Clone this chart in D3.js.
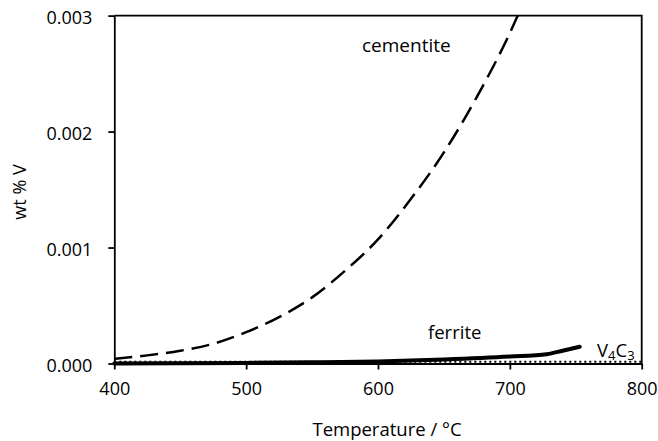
<!DOCTYPE html>
<html>
<head>
<meta charset="utf-8">
<script src="https://cdn.jsdelivr.net/npm/d3@7"></script>
<style>
  body { margin: 0; background: #fff; }
  text { font-family: "Open Sans", sans-serif; fill: #000; }
</style>
</head>
<body>
<script>
// ---- data ----
const xTicks = [400, 500, 600, 700, 800];
const yTicks = [0, 0.001, 0.002, 0.003];

const cementiteT = [400, 425, 450, 475, 500, 525, 550, 575, 600, 625, 650, 675, 700, 706];
const cementiteV = [0.00004, 0.00007, 0.00011, 0.00017, 0.00027, 0.00040, 0.00057, 0.00080, 0.00107, 0.00142, 0.00182, 0.00230, 0.00285, 0.00300];

const ferriteT = [400, 450, 500, 550, 600, 650, 700, 728, 740, 753];
const ferriteV = [0, 0.000002, 0.000005, 0.00001, 0.000018, 0.000035, 0.00006, 0.00008, 0.00011, 0.000145];

const v4c3T = [400, 800];
const v4c3V = [0.000016, 0.000016];

// ---- layout ----
const W = 658, H = 441;
const L = 114.3, R = 641.7, T = 15.6, B = 363.5;

const svg = d3.select("body").append("svg")
  .attr("width", W).attr("height", H);

const x = d3.scaleLinear().domain([400, 800]).range([L, R]);
const y = d3.scaleLinear().domain([0, 0.003]).range([B, T]);

svg.append("defs").append("clipPath").attr("id", "clip")
  .append("rect").attr("x", L).attr("y", T).attr("width", R - L).attr("height", B - T);

const zip = (a, b) => a.map((d, i) => [d, b[i]]);
const line = d3.line().x(d => x(d[0])).y(d => y(d[1])).curve(d3.curveMonotoneX);

const plot = svg.append("g").attr("clip-path", "url(#clip)");

// V4C3 dotted
plot.append("path")
  .attr("d", d3.line().x(d => x(d[0])).y(d => y(d[1]))(zip(v4c3T, v4c3V)))
  .attr("fill", "none").attr("stroke", "#000").attr("stroke-width", 2)
  .attr("stroke-dasharray", "2,3");

// cementite dashed
plot.append("path")
  .attr("d", line(zip(cementiteT, cementiteV)))
  .attr("fill", "none").attr("stroke", "#000").attr("stroke-width", 2.5)
  .attr("stroke-dasharray", "18,8");

// ferrite thick solid
svg.append("path")
  .attr("d", line(zip(ferriteT, ferriteV)))
  .attr("fill", "none").attr("stroke", "#000").attr("stroke-width", 4)
  .attr("stroke-linecap", "round");

// frame top/right
svg.append("path")
  .attr("d", `M${L},${T}H${R}V${B}`)
  .attr("fill", "none").attr("stroke", "#000").attr("stroke-width", 1.8);

// axes
const yAxis = svg.append("g").attr("transform", `translate(${L},0)`)
  .call(d3.axisLeft(y).tickValues(yTicks).tickFormat(d3.format(".3f")).tickSize(6).tickSizeOuter(0).tickPadding(16));
const xAxis = svg.append("g").attr("transform", `translate(0,${B})`)
  .call(d3.axisBottom(x).tickValues(xTicks).tickSize(6).tickSizeOuter(0).tickPadding(16));

[yAxis, xAxis].forEach(g => {
  g.select(".domain").attr("stroke", "#000").attr("stroke-width", 1.8);
  g.selectAll(".tick line").attr("stroke", "#000").attr("stroke-width", 1.8);
  g.selectAll(".tick text").attr("font-family", "'Open Sans', sans-serif").attr("font-size", 18).attr("fill", "#000");
});
yAxis.selectAll(".tick text").attr("dy", "0.45em");
xAxis.selectAll(".tick text").attr("dy", "0.55em");

// axis titles
svg.append("text")
  .attr("transform", `translate(26,192) rotate(-90)`)
  .attr("text-anchor", "middle").attr("font-size", 18)
  .text("wt % V");
svg.append("text")
  .attr("x", 387).attr("y", 436)
  .attr("text-anchor", "middle").attr("font-size", 18.5)
  .text("Temperature / °C");

// series labels
svg.append("text").attr("x", 362).attr("y", 52).attr("font-size", 19).text("cementite");
svg.append("text").attr("x", 428).attr("y", 339).attr("font-size", 18.5).text("ferrite");
const v = svg.append("text").attr("x", 597).attr("y", 356.5).attr("font-size", 18.5);
v.append("tspan").text("V");
v.append("tspan").attr("font-size", 13).attr("dy", 3).text("4");
v.append("tspan").attr("dy", -3).text("C");
v.append("tspan").attr("font-size", 13).attr("dy", 3).text("3");
</script>
</body>
</html>
